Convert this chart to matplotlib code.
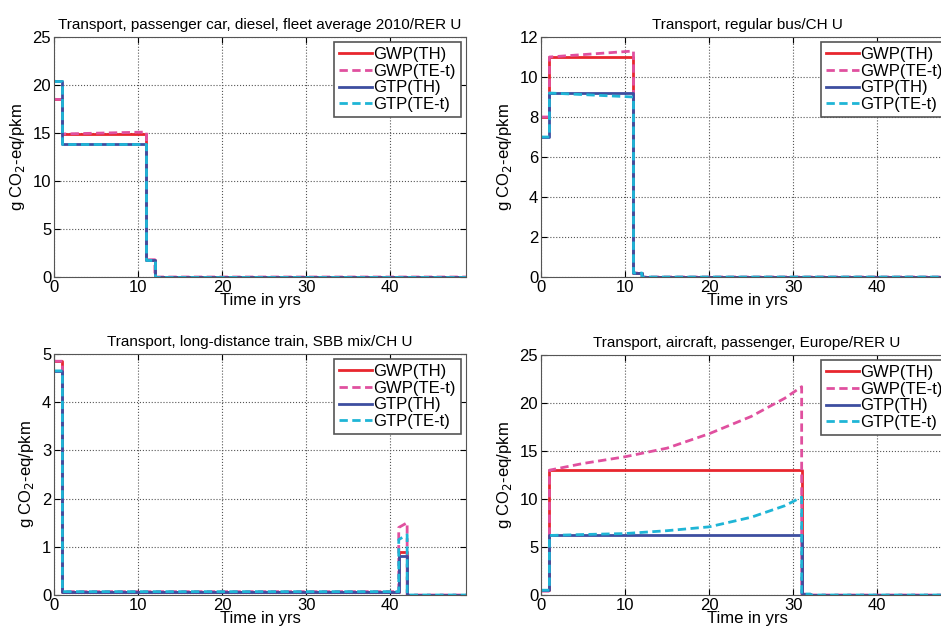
import numpy as np
import matplotlib
matplotlib.use("Agg")
import matplotlib.pyplot as plt

plt.rcParams['font.family'] = ['Liberation Sans', 'DejaVu Sans']

labels = ["GWP(TH)", "GWP(TE-t)", "GTP(TH)", "GTP(TE-t)"]
colors = ["#e8262e", "#e0509f", "#3d4ea0", "#1fb5d6"]
styles = ["-", "--", "-", "--"]

# car
car_t = [0, 1, 1, 11, 11, 12, 12, 49]
car_gwp_th = [18.5, 18.5, 14.9, 14.9, 1.8, 1.8, 0, 0]
car_gwp_te = [18.5, 18.5, 14.9, 15.1, 1.8, 1.8, 0, 0]
car_gtp_th = [20.4, 20.4, 13.9, 13.9, 1.8, 1.8, 0, 0]
car_gtp_te = [20.4, 20.4, 13.9, 13.9, 1.8, 1.8, 0, 0]

# bus
bus_t = [0, 1, 1, 6, 11, 11, 12, 12, 49]
bus_gwp_th = [8, 8, 11, 11, 11, 0.2, 0.2, 0, 0]
bus_gwp_te = [8, 8, 11, 11.15, 11.3, 0.2, 0.2, 0, 0]
bus_gtp_th = [7, 7, 9.2, 9.2, 9.2, 0.2, 0.2, 0, 0]
bus_gtp_te = [7, 7, 9.2, 9.1, 9.0, 0.2, 0.2, 0, 0]

# train
train_t = [0, 1, 1, 41, 41, 42, 42, 49]
train_gwp_th = [4.85, 4.85, 0.07, 0.07, 0.9, 0.9, 0, 0]
train_gwp_te = [4.85, 4.85, 0.07, 0.07, 1.4, 1.5, 0, 0]
train_gtp_th = [4.65, 4.65, 0.07, 0.07, 0.8, 0.8, 0, 0]
train_gtp_te = [4.65, 4.65, 0.07, 0.07, 1.15, 1.25, 0, 0]

# aircraft
air_t = [0, 1, 1, 5, 10, 15, 20, 25, 29, 31, 31, 32, 32, 49]
air_gwp_th = [0.5, 0.5, 13.0, 13.0, 13.0, 13.0, 13.0, 13.0, 13.0, 13.0, 0.1, 0.1, 0, 0]
air_gwp_te = [0.4, 0.4, 13.0, 13.7, 14.4, 15.3, 16.8, 18.6, 20.5, 21.7, 0.1, 0.1, 0, 0]
air_gtp_th = [0.5, 0.5, 6.2, 6.2, 6.2, 6.2, 6.2, 6.2, 6.2, 6.2, 0.1, 0.1, 0, 0]
air_gtp_te = [0.5, 0.5, 6.2, 6.3, 6.4, 6.7, 7.1, 8.1, 9.3, 10.2, 0.1, 0.1, 0, 0]

panels = [
    ("Transport, passenger car, diesel, fleet average 2010/RER U", car_t,
     [car_gwp_th, car_gwp_te, car_gtp_th, car_gtp_te], 25, 5),
    ("Transport, regular bus/CH U", bus_t,
     [bus_gwp_th, bus_gwp_te, bus_gtp_th, bus_gtp_te], 12, 2),
    ("Transport, long-distance train, SBB mix/CH U", train_t,
     [train_gwp_th, train_gwp_te, train_gtp_th, train_gtp_te], 5, 1),
    ("Transport, aircraft, passenger, Europe/RER U", air_t,
     [air_gwp_th, air_gwp_te, air_gtp_th, air_gtp_te], 25, 5),
]

W, H = 941, 627
fig = plt.figure(figsize=(W / 100, H / 100), dpi=100)
lefts = [54, 541, 54, 541]
tops = [37, 37, 354, 355]
bottoms = [277, 277, 595, 595]
aw = 412

for i, (title, t, series, ymax, ystep) in enumerate(panels):
    ax = fig.add_axes([lefts[i] / W, 1 - bottoms[i] / H, aw / W, (bottoms[i] - tops[i]) / H])
    for y, lab, c, ls in zip(series, labels, colors, styles):
        ax.plot(t, y, ls, color=c, lw=2, label=lab, dashes=(3, 1.6) if ls == "--" else (None, None))
    ax.set_xlim(0, 49)
    ax.set_ylim(0, ymax)
    ax.set_xticks([0, 10, 20, 30, 40])
    ax.set_yticks(np.arange(0, ymax + 0.01, ystep))
    ax.grid(True, linestyle=":", color="#555555", lw=0.8)
    ax.tick_params(direction="in", top=True, right=True, labelsize=12, length=4, pad=2)
    for s in ax.spines.values():
        s.set_color("#555555")
    ax.set_title(title, fontsize=11, pad=6)
    ax.set_xlabel("Time in yrs", fontsize=12, labelpad=-1)
    ax.set_ylabel("g CO$_2$-eq/pkm", fontsize=12, labelpad=4)
    leg = ax.legend(loc="upper right", fontsize=12, fancybox=False, framealpha=1,
                    edgecolor="#555555", handlelength=2.0, handletextpad=0.1,
                    borderaxespad=0.3, labelspacing=0.1, borderpad=0.3)
    leg.get_frame().set_linewidth(1.2)

fig.savefig("out.png", dpi=100)
